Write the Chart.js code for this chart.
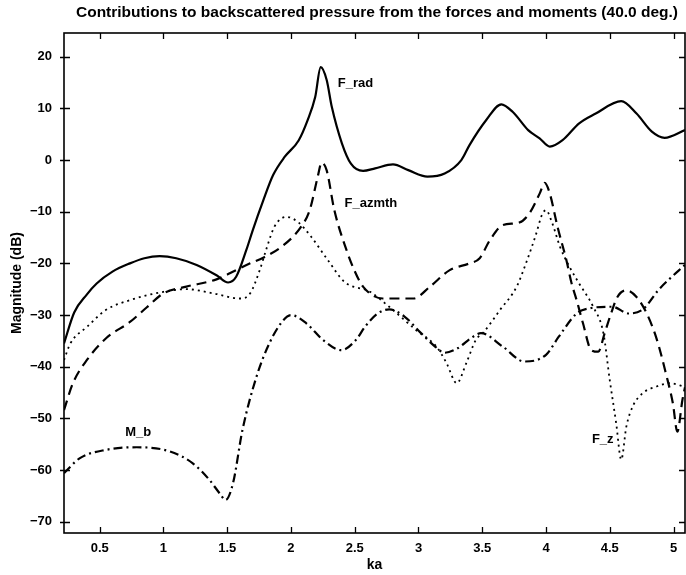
<!DOCTYPE html>
<html>
<head>
<meta charset="utf-8">
<script src="https://cdn.jsdelivr.net/npm/chart.js@4.4.1/dist/chart.umd.min.js"></script>
<style>
  html, body { margin: 0; padding: 0; background: #fff; }
  canvas { display: block; }
</style>
</head>
<body>
<canvas id="c" width="686" height="575"></canvas>
<script>
// Axis ticks
const xTicks = [0.5, 1, 1.5, 2, 2.5, 3, 3.5, 4, 4.5, 5];
const yTicks = [-70, -60, -50, -40, -30, -20, -10, 0, 10, 20];

// Radial force contribution (dB) vs ka
const fRadKa = [0.22, 0.30, 0.40, 0.476, 0.60, 0.737, 0.85, 0.97, 1.10, 1.26, 1.416, 1.507, 1.57, 1.65, 1.70, 1.78, 1.86, 1.95, 2.06, 2.13, 2.19, 2.233, 2.28, 2.32, 2.40, 2.47, 2.565, 2.66, 2.80, 2.92, 3.07, 3.205, 3.336, 3.40, 3.53, 3.65, 3.74, 3.86, 3.95, 4.03, 4.13, 4.26, 4.39, 4.59, 4.71, 4.83, 4.93, 5.09];
const fRadDb = [-35.5, -29.5, -26.0, -23.9, -21.6, -20.0, -19.0, -18.6, -19.0, -20.3, -22.3, -23.7, -22.6, -17.4, -13.6, -8.0, -2.9, 0.6, 3.8, 7.7, 12.2, 18.0, 15.5, 10.3, 3.2, -0.7, -2.1, -1.6, -0.85, -1.95, -3.2, -2.6, 0.0, 2.9, 7.7, 10.8, 9.3, 5.8, 4.2, 2.6, 3.85, 7.1, 9.0, 11.4, 9.0, 5.5, 4.3, 5.8];

// Azimuthal force contribution
const fAzKa = [0.22, 0.29, 0.40, 0.55, 0.74, 0.87, 1.0, 1.18, 1.416, 1.57, 1.68, 1.79, 1.925, 2.08, 2.147, 2.21, 2.24, 2.28, 2.34, 2.435, 2.50, 2.565, 2.72, 2.96, 3.09, 3.245, 3.40, 3.48, 3.56, 3.66, 3.79, 3.87, 3.95, 3.99, 4.03, 4.09, 4.16, 4.20, 4.24, 4.29, 4.355, 4.41, 4.46, 4.51, 4.56, 4.63, 4.71, 4.79, 4.87, 4.94, 4.995, 5.03, 5.07, 5.09];
const fAzDb = [-48.4, -43.2, -38.7, -34.5, -31.3, -28.5, -25.8, -24.5, -23.1, -21.3, -20.0, -18.8, -16.8, -12.9, -9.7, -3.2, -0.5, -2.0, -9.7, -17.4, -21.5, -24.5, -26.8, -26.8, -24.5, -21.3, -20.0, -19.0, -15.5, -12.6, -12.1, -10.3, -6.5, -4.4, -6.5, -12.9, -19.4, -23.8, -27.1, -31.6, -36.8, -37.1, -33.5, -29.7, -26.5, -25.2, -26.5, -29.7, -34.8, -41.3, -47.1, -52.6, -46.4, -44.0];

// Axial force contribution
const fZKa = [0.22, 0.27, 0.40, 0.55, 0.74, 1.0, 1.18, 1.39, 1.60, 1.68, 1.755, 1.81, 1.87, 1.965, 2.055, 2.16, 2.29, 2.42, 2.62, 2.77, 2.98, 3.14, 3.22, 3.30, 3.375, 3.45, 3.505, 3.64, 3.77, 3.85, 3.92, 3.97, 4.0, 4.05, 4.11, 4.185, 4.26, 4.37, 4.45, 4.50, 4.55, 4.59, 4.63, 4.68, 4.76, 4.86, 4.97, 5.09];
const fZDb = [-38.7, -35.5, -32.3, -29.0, -27.1, -25.5, -25.0, -25.8, -26.8, -25.8, -21.3, -17.0, -12.9, -11.0, -12.0, -14.9, -19.4, -23.6, -25.5, -28.4, -32.9, -36.1, -39.3, -43.2, -39.3, -34.8, -33.5, -29.0, -24.5, -19.5, -14.5, -10.5, -9.7, -12.3, -16.8, -20.7, -23.9, -28.4, -33.5, -42.6, -50.9, -58.0, -51.6, -47.7, -45.1, -43.9, -43.2, -43.9];

// Bending moment contribution
const mBKa = [0.22, 0.345, 0.55, 0.79, 1.05, 1.23, 1.36, 1.44, 1.487, 1.545, 1.62, 1.73, 1.83, 1.94, 2.0, 2.12, 2.25, 2.395, 2.51, 2.58, 2.68, 2.77, 2.89, 3.02, 3.13, 3.205, 3.31, 3.41, 3.49, 3.66, 3.83, 4.0, 4.1, 4.24, 4.34, 4.52, 4.65, 4.76, 4.88, 4.96, 5.09];
const mBDb = [-60.6, -57.7, -56.1, -55.6, -56.4, -58.7, -61.9, -64.5, -65.8, -62.6, -52.2, -41.9, -35.5, -31.0, -30.0, -31.6, -34.8, -36.8, -34.8, -32.3, -29.7, -28.9, -30.3, -33.5, -36.1, -37.3, -36.4, -34.5, -33.5, -36.1, -39.0, -37.7, -34.2, -29.7, -28.7, -28.4, -29.7, -28.9, -25.2, -23.2, -20.3];

const seriesNames = ['F_rad', 'F_azmth', 'F_z', 'M_b'];
const titleText = 'Contributions to backscattered pressure from the forces and moments (40.0 deg.)';
const FONT = '"Liberation Sans", Arial, Helvetica, sans-serif';

const toPoints = (ka, db) => ka.map((k, i) => ({ x: k, y: db[i] }));

// Curve names written next to their curves, anchored in data units
const curveLabels = [
  { text: seriesNames[0], ka: 2.367, db: 14.9 },
  { text: seriesNames[1], ka: 2.42, db: -8.3 },
  { text: seriesNames[3], ka: 0.70, db: -52.8 },
  { text: seriesNames[2], ka: 4.36, db: -54.0 }
];

// Boxed frame with inward ticks, curve names and the title
const framePlugin = {
  id: 'frame',
  afterDatasetsDraw(chart) {
    const { ctx, chartArea: a, scales: { x, y } } = chart;
    ctx.save();
    ctx.strokeStyle = '#000';
    ctx.lineWidth = 1.6;
    ctx.strokeRect(a.left, a.top, a.right - a.left, a.bottom - a.top);
    ctx.lineWidth = 1.3;
    ctx.beginPath();
    x.ticks.forEach(t => {
      const px = Math.round(x.getPixelForValue(t.value)) + 0.5;
      ctx.moveTo(px, a.bottom); ctx.lineTo(px, a.bottom - 6);
      ctx.moveTo(px, a.top); ctx.lineTo(px, a.top + 6);
    });
    y.ticks.forEach(t => {
      const py = Math.round(y.getPixelForValue(t.value)) + 0.5;
      ctx.moveTo(a.left - 4, py); ctx.lineTo(a.left + 6, py);
      ctx.moveTo(a.right, py); ctx.lineTo(a.right - 6, py);
    });
    ctx.stroke();

    ctx.fillStyle = '#000';
    ctx.font = 'bold 13px ' + FONT;
    ctx.textBaseline = 'middle';
    ctx.textAlign = 'left';
    curveLabels.forEach(l => ctx.fillText(l.text, x.getPixelForValue(l.ka), y.getPixelForValue(l.db)));

    ctx.font = 'bold 15.5px ' + FONT;
    ctx.textAlign = 'center';
    ctx.fillText(titleText, 377, 13);
    ctx.restore();
  }
};

const lineStyle = (dash, width) => ({
  borderColor: '#000',
  borderWidth: width,
  borderDash: dash,
  borderCapStyle: 'butt',
  pointRadius: 0,
  fill: false,
  cubicInterpolationMode: 'monotone'
});

new Chart(document.getElementById('c'), {
  type: 'line',
  data: {
    datasets: [
      { label: seriesNames[0], data: toPoints(fRadKa, fRadDb), ...lineStyle([], 2.2) },
      { label: seriesNames[1], data: toPoints(fAzKa, fAzDb), ...lineStyle([10, 6], 2.2) },
      { label: seriesNames[2], data: toPoints(fZKa, fZDb), ...lineStyle([2, 4], 1.8) },
      { label: seriesNames[3], data: toPoints(mBKa, mBDb), ...lineStyle([9, 4, 2, 4], 2.2) }
    ]
  },
  options: {
    responsive: false,
    animation: false,
    devicePixelRatio: 1,
    layout: { padding: { top: 33, right: 1, left: 0, bottom: 0 } },
    plugins: { legend: { display: false }, title: { display: false }, tooltip: { enabled: false } },
    scales: {
      x: {
        type: 'linear',
        min: 0.22,
        max: 5.09,
        afterBuildTicks: s => { s.ticks = xTicks.map(v => ({ value: v })); },
        afterFit: s => { s.height = 42; },
        grid: { display: false, drawTicks: false },
        border: { display: false },
        ticks: {
          padding: 8,
          color: '#000',
          font: { family: FONT, size: 13, weight: 'bold' },
          maxRotation: 0,
          callback: v => String(v)
        },
        title: {
          display: true,
          text: 'ka',
          color: '#000',
          font: { family: FONT, size: 14, weight: 'bold' },
          padding: { top: 0, bottom: 1 }
        }
      },
      y: {
        type: 'linear',
        min: -72.2,
        max: 24.6,
        afterBuildTicks: s => { s.ticks = yTicks.map(v => ({ value: v })); },
        afterFit: s => { s.width = 64; },
        grid: { display: false, drawTicks: false },
        border: { display: false },
        ticks: {
          padding: 12,
          color: '#000',
          font: { family: FONT, size: 13, weight: 'bold' },
          callback: v => String(v).replace('-', '\u2212')
        },
        title: {
          display: true,
          text: 'Magnitude (dB)',
          color: '#000',
          font: { family: FONT, size: 14, weight: 'bold' },
          padding: { top: 9, bottom: 0 }
        }
      }
    }
  },
  plugins: [framePlugin]
});
</script>
</body>
</html>
